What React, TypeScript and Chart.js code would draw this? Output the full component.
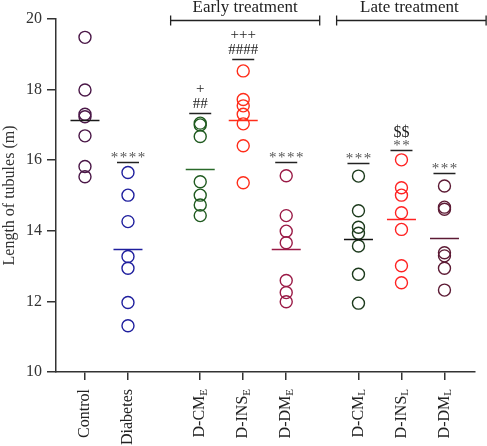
import React, { useEffect, useRef } from "react";
import { Chart, registerables } from "chart.js";

Chart.register(...registerables);

// ---- data ----
const categories = ["Control", "Diabetes", "D-CM", "D-INS", "D-DM", "D-CM", "D-INS", "D-DM"];
const subscripts = ["", "", "E", "E", "E", "L", "L", "L"];
const positions = [0, 1, 2.68, 3.68, 4.68, 6.36, 7.36, 8.36];

const controlValues = [19.48, 17.99, 17.3, 17.23, 16.69, 15.82, 15.53];
const diabetesValues = [15.65, 15.01, 14.26, 13.27, 12.94, 11.97, 11.31];
const cmEarlyValues = [17.05, 17.0, 16.67, 15.39, 15.01, 14.73, 14.43];
const insEarlyValues = [18.53, 17.72, 17.54, 17.3, 17.03, 16.41, 15.36];
const dmEarlyValues = [15.56, 14.43, 13.99, 13.66, 12.59, 12.25, 11.99];
const cmLateValues = [15.55, 14.57, 14.1, 13.93, 13.57, 12.77, 11.95];
const insLateValues = [16.01, 15.22, 15.01, 14.51, 14.04, 13.01, 12.53];
const dmLateValues = [15.27, 14.67, 14.61, 13.38, 13.29, 12.94, 12.32];

const groupValues = [
  controlValues,
  diabetesValues,
  cmEarlyValues,
  insEarlyValues,
  dmEarlyValues,
  cmLateValues,
  insLateValues,
  dmLateValues,
];

const sigLevels: (number | null)[] = [null, 15.94, 17.34, 18.86, 15.95, 15.93, 16.29, 15.65];
const sigMarks: string[][] = [[], ["****"], ["##", "+"], ["####", "+++"], ["****"], ["***"], ["**", "$$"], ["***"]];

const yTicks = [10, 12, 14, 16, 18, 20];

const treatmentLabels = ["Early treatment", "Late treatment"];
const treatmentRanges = [
  [1.98, 5.47],
  [5.84, 9.34],
];

// ---- styles ----
const colors = ["#4a1747", "#1f1f9e", "#1f5a1f", "#ff2d1a", "#9a1a46", "#1c3a1c", "#ff2222", "#5c1a34"];
const meanColors = ["#1a1a1a", "#1f1f9e", "#2a6a2a", "#ff2d1a", "#9a1a46", "#111", "#ff2222", "#5c1a34"];
const FONT = "'Liberation Serif', 'DejaVu Serif', serif";

const mean = (a: number[]) => a.reduce((s, v) => s + v, 0) / a.length;

const overlay = {
  id: "overlay",
  afterDraw(chart: any) {
    const ctx = chart.ctx as CanvasRenderingContext2D;
    const xs = chart.scales.x;
    const ys = chart.scales.y;
    ctx.save();
    // mean lines
    groupValues.forEach((vals, i) => {
      const px = xs.getPixelForValue(positions[i]);
      const py = Math.round(ys.getPixelForValue(mean(vals))) + 0.5;
      ctx.strokeStyle = meanColors[i];
      ctx.lineWidth = 1.5;
      ctx.beginPath();
      ctx.moveTo(px - 14.5, py);
      ctx.lineTo(px + 14.5, py);
      ctx.stroke();
    });
    // significance lines + marks
    sigLevels.forEach((lvl, i) => {
      if (lvl == null) return;
      const px = xs.getPixelForValue(positions[i]);
      const py = Math.round(ys.getPixelForValue(lvl)) + 0.5;
      ctx.strokeStyle = "#222";
      ctx.lineWidth = 1.5;
      ctx.beginPath();
      ctx.moveTo(px - 11, py);
      ctx.lineTo(px + 11, py);
      ctx.stroke();
      let y = py;
      sigMarks[i].forEach((m, j) => {
        const isStar = m[0] === "*";
        ctx.textBaseline = "alphabetic";
        ctx.textAlign = "center";
        if (isStar) {
          ctx.font = `15px ${FONT}`;
          ctx.fillStyle = "#555";
          const pitch = 9;
          const n = m.length;
          const baseY = y - 0.5;
          for (let k = 0; k < n; k++) {
            ctx.fillText("*", px + (k - (n - 1) / 2) * pitch, baseY);
          }
          y -= 14;
        } else if (m[0] === "$") {
          ctx.font = `16px ${FONT}`;
          ctx.fillStyle = "#222";
          ctx.fillText(m, px, y);
          y -= 14;
        } else {
          ctx.font = `15px ${FONT}`;
          ctx.fillStyle = "#222";
          const gap = j === 0 ? 5.5 : 6.5;
          ctx.fillText(m, px, y - gap);
          y -= gap + 9;
        }
      });
    });
    // treatment brackets
    const by = 20.5;
    treatmentRanges.forEach((r, i) => {
      const x1 = xs.getPixelForValue(r[0]);
      const x2 = xs.getPixelForValue(r[1]);
      ctx.strokeStyle = "#222";
      ctx.lineWidth = 1.3;
      ctx.beginPath();
      ctx.moveTo(x1, by);
      ctx.lineTo(x2, by);
      ctx.moveTo(x1 + 0.5, by - 5);
      ctx.lineTo(x1 + 0.5, by + 5);
      ctx.moveTo(x2 - 0.5, by - 5);
      ctx.lineTo(x2 - 0.5, by + 5);
      ctx.stroke();
      ctx.font = `17px ${FONT}`;
      ctx.fillStyle = "#222";
      ctx.textAlign = "center";
      ctx.textBaseline = "alphabetic";
      const cx = i === 0 ? (x1 + x2) / 2 : (x1 + Math.min(x2, chart.width)) / 2 - 2;
      ctx.fillText(treatmentLabels[i], cx, 12);
    });
    // x labels (rotated, with subscripts)
    const yTop = chart.chartArea.bottom + 17;
    categories.forEach((c, i) => {
      const px = xs.getPixelForValue(positions[i]);
      ctx.save();
      ctx.translate(px, yTop);
      ctx.rotate(-Math.PI / 2);
      ctx.fillStyle = "#222";
      ctx.textBaseline = "middle";
      ctx.textAlign = "left";
      ctx.font = `16px ${FONT}`;
      const mainW = ctx.measureText(c).width;
      let subW = 0;
      if (subscripts[i]) {
        ctx.font = `11px ${FONT}`;
        subW = ctx.measureText(subscripts[i]).width;
      }
      ctx.font = `16px ${FONT}`;
      ctx.fillText(c, -(mainW + subW), 0);
      if (subscripts[i]) {
        ctx.font = `11px ${FONT}`;
        ctx.fillText(subscripts[i], -subW, 4);
      }
      ctx.restore();
    });
    ctx.restore();
  },
};

export default function App() {
  const ref = useRef<HTMLCanvasElement>(null);
  useEffect(() => {
    document.body.style.margin = "0";
    const canvas = ref.current!;
    const datasets = groupValues.map((vals, i) => ({
      label: categories[i] + subscripts[i],
      data: vals.map((v) => ({ x: positions[i], y: v })),
      borderColor: colors[i],
      backgroundColor: "rgba(0,0,0,0)",
      pointRadius: 6,
      pointBorderWidth: 1.4,
      pointStyle: "circle",
      showLine: false,
    }));
    const chart = new Chart(canvas, {
      type: "scatter",
      data: { datasets },
      options: {
        responsive: false,
        animation: false,
        layout: { padding: { top: 19, right: 12, left: 0, bottom: 0 } },
        plugins: { legend: { display: false }, tooltip: { enabled: false } },
        scales: {
          x: {
            type: "linear",
            min: -0.674,
            max: 9.07,
            afterBuildTicks: (s: any) => {
              s.ticks = positions.map((v) => ({ value: v }));
            },
            afterFit: (s: any) => {
              s.height = 74;
            },
            ticks: { callback: () => "", autoSkip: false, maxRotation: 0 },
            grid: { drawOnChartArea: false, drawTicks: true, tickLength: 8, color: "#333", lineWidth: 1.5 },
            border: { display: true, color: "#333", width: 1.5 },
          },
          y: {
            min: 10,
            max: 20,
            afterBuildTicks: (s: any) => {
              s.ticks = yTicks.map((v) => ({ value: v }));
            },
            afterFit: (s: any) => {
              s.width = 56;
            },
            ticks: { font: { family: FONT, size: 16 }, color: "#333", padding: 5 },
            grid: { drawOnChartArea: false, drawTicks: true, tickLength: 9, color: "#333", lineWidth: 1.5 },
            border: { display: true, color: "#333", width: 1.5 },
            title: {
              display: true,
              text: "Length of tubules (m)",
              font: { family: FONT, size: 16 },
              color: "#333",
              padding: 0,
            },
          },
        },
      },
      plugins: [overlay],
    } as any);
    return () => chart.destroy();
  }, []);
  return (
    <div style={{ position: "fixed", left: 0, top: 0, width: 487, height: 446, background: "#fff" }}>
      <canvas ref={ref} width={487} height={446} />
    </div>
  );
}
